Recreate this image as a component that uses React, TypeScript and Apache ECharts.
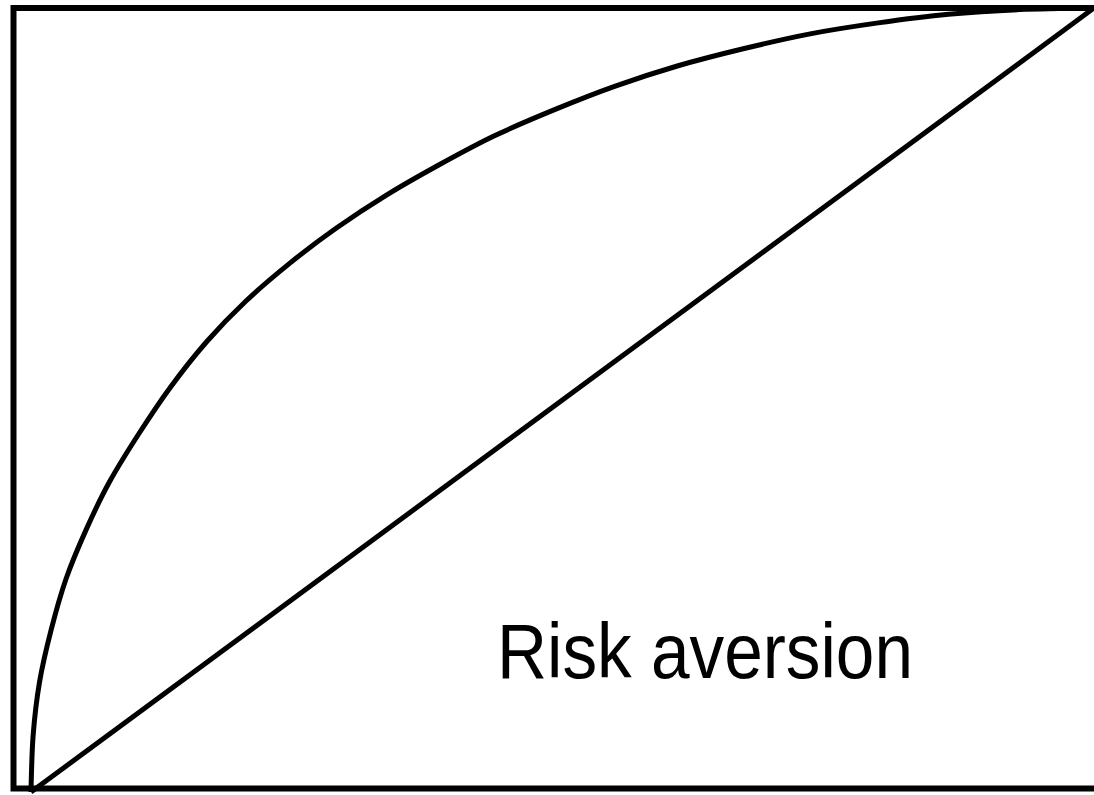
import React, { useEffect, useRef } from "react";
import * as echarts from "echarts";

// Utility curve (concave) and the risk-neutral diagonal, both on a 0..1 scale
const curveX = [
  0, 0.002, 0.008, 0.019, 0.033, 0.052, 0.074, 0.101, 0.131, 0.165, 0.202, 0.243, 0.287,
  0.334, 0.384, 0.436, 0.492, 0.549, 0.608, 0.67, 0.733, 0.797, 0.863, 0.93, 1.0,
];
const curveY = [
  0, 0.072, 0.14, 0.207, 0.272, 0.335, 0.396, 0.456, 0.516, 0.574, 0.626, 0.674, 0.719,
  0.761, 0.8, 0.837, 0.87, 0.9, 0.926, 0.948, 0.967, 0.981, 0.992, 0.998, 1.0,
];
const diagonalX = [0, 1];
const diagonalY = [0, 1];
const labelText = "Risk aversion";

export default function App() {
  const ref = useRef<HTMLDivElement>(null);

  useEffect(() => {
    if (!ref.current) return;
    const chart = echarts.init(ref.current, null, { renderer: "svg" });
    chart.setOption({
      animation: false,
      backgroundColor: "#ffffff",
      grid: { left: 31, top: 8, width: 1080, height: 784 },
      xAxis: { type: "value", min: 0, max: 1, show: false },
      yAxis: { type: "value", min: 0, max: 1, show: false },
      graphic: [
        {
          type: "rect",
          shape: { x: 13.5, y: 8, width: 1200, height: 780.5 },
          style: { fill: "none", stroke: "#000", lineWidth: 6 },
          z: 10,
        },
        {
          type: "text",
          x: 497,
          y: 652,
          scaleX: 0.9,
          style: {
            text: labelText,
            fill: "#000",
            font: '77px "Liberation Sans", Arial, sans-serif',
            verticalAlign: "middle",
            align: "left",
          },
        },
      ],
      series: [
        {
          type: "line",
          data: curveX.map((x, i) => [x, curveY[i]]),
          smooth: 0.3,
          showSymbol: false,
          clip: false,
          lineStyle: { color: "#000", width: 5 },
        },
        {
          type: "line",
          data: diagonalX.map((x, i) => [x, diagonalY[i]]),
          showSymbol: false,
          clip: false,
          lineStyle: { color: "#000", width: 5 },
        },
      ],
    });
    return () => chart.dispose();
  }, []);

  return (
    <div
      ref={ref}
      style={{ position: "fixed", left: 0, top: 0, width: 1094, height: 795, background: "#fff" }}
    />
  );
}
